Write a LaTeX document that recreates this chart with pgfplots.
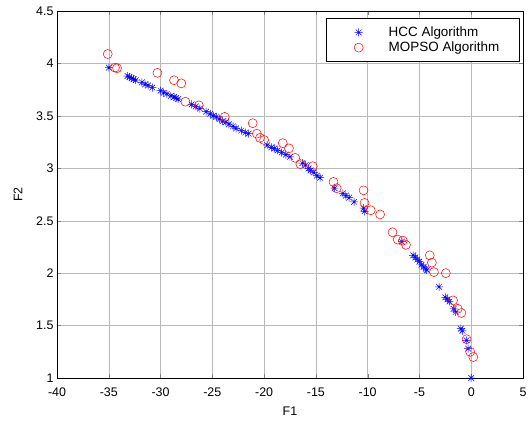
\documentclass[border=0pt]{standalone}
\usepackage{pgfplots}
\pgfplotsset{compat=1.18}
\usepackage{fontspec}
\setmainfont{Liberation Sans}

% MATLAB-style eight-armed asterisk
\pgfdeclareplotmark{mstar}{%
  \pgfpathmoveto{\pgfqpoint{-\pgfplotmarksize}{0pt}}%
  \pgfpathlineto{\pgfqpoint{\pgfplotmarksize}{0pt}}%
  \pgfpathmoveto{\pgfqpoint{0pt}{-\pgfplotmarksize}}%
  \pgfpathlineto{\pgfqpoint{0pt}{\pgfplotmarksize}}%
  \pgfpathmoveto{\pgfqpoint{-0.7071\pgfplotmarksize}{-0.7071\pgfplotmarksize}}%
  \pgfpathlineto{\pgfqpoint{0.7071\pgfplotmarksize}{0.7071\pgfplotmarksize}}%
  \pgfpathmoveto{\pgfqpoint{-0.7071\pgfplotmarksize}{0.7071\pgfplotmarksize}}%
  \pgfpathlineto{\pgfqpoint{0.7071\pgfplotmarksize}{-0.7071\pgfplotmarksize}}%
  \pgfusepathqstroke}

\begin{document}
\begin{tikzpicture}
\begin{axis}[
    scale only axis,
    width=466bp, height=367bp,
    xmin=-40, xmax=5,
    ymin=1, ymax=4.5,
    xtick={-40,-35,...,5},
    ytick={1,1.5,...,4.5},
    tick align=inside,
    tick pos=both,
    major tick length=4bp,
    grid=major,
    grid style={gray!55, line width=0.4pt},
    axis line style={line width=0.6pt},
    xlabel={F1}, ylabel={F2},
    ticklabel style={font=\fontsize{12.5}{14}\selectfont},
    xticklabel style={yshift=-6bp},
    label style={font=\fontsize{12.5}{14}\selectfont},
    xlabel style={yshift=-4bp},
    ylabel style={yshift=7bp},
    /pgf/number format/assume math mode=true,
    legend style={at={(axis description cs:1,1)}, anchor=north east,
        xshift=-3bp, yshift=-7bp,
        font=\fontsize{13.5}{15}\selectfont, draw=black, line width=0.6pt,
        inner xsep=0bp, inner ysep=6.5bp, row sep=0bp},
    legend cell align=left,
    legend image code/.code={%
        \path[draw=none] (0bp,0bp) -- (60bp,0bp);
        \draw[only marks,#1] plot coordinates {(32bp,0bp)};},
]
\addplot[only marks, mark=mstar, mark size=4bp, color=blue, line width=0.5pt]
coordinates{
(-35.0,3.96)
(-33.2,3.88)(-33.0,3.87)(-32.8,3.86)(-32.6,3.85)(-32.4,3.84)
(-31.8,3.82)(-31.5,3.80)(-31.2,3.79)(-30.8,3.77)
(-30.0,3.74)(-29.7,3.72)(-29.4,3.71)(-29.0,3.69)(-28.7,3.68)(-28.5,3.67)(-28.3,3.66)
(-27.0,3.61)(-26.6,3.59)(-26.2,3.57)(-25.6,3.54)(-25.2,3.52)(-24.9,3.50)(-24.6,3.49)
(-24.3,3.47)(-24.0,3.45)(-23.7,3.44)(-23.4,3.42)
(-23.0,3.40)(-22.7,3.38)(-22.2,3.36)(-21.8,3.34)(-21.5,3.33)
(-19.7,3.22)(-19.3,3.20)(-19.0,3.19)(-18.7,3.17)(-18.3,3.15)(-17.9,3.13)(-17.5,3.11)
(-16.3,3.05)(-16.0,3.03)(-15.7,3.00)(-15.5,2.98)(-15.2,2.96)(-14.9,2.93)(-14.6,2.91)
(-13.2,2.81)
(-12.4,2.76)(-12.1,2.74)(-11.8,2.72)(-11.3,2.68)
(-10.4,2.62)(-10.3,2.59)
(-6.7,2.30)
(-5.6,2.17)(-5.4,2.15)(-5.2,2.13)(-5.0,2.11)(-4.8,2.08)(-4.6,2.06)(-4.4,2.04)(-4.3,2.03)
(-3.1,1.87)
(-2.5,1.77)(-2.3,1.75)(-2.1,1.73)
(-1.7,1.66)(-1.5,1.63)
(-1.0,1.47)(-0.85,1.45)
(-0.45,1.36)(-0.3,1.28)(0,1.0)
};
\addlegendentry{\makebox[129bp][l]{HCC Algorithm}}
\addplot[only marks, mark=o, mark size=4.5bp, color=red, line width=0.5pt]
coordinates{
(-35.1,4.09)(-34.4,3.96)(-34.2,3.955)(-30.3,3.91)(-28.7,3.84)(-28.0,3.81)
(-27.6,3.635)(-26.3,3.60)(-23.8,3.49)(-21.1,3.43)(-20.7,3.33)(-20.4,3.29)
(-20.0,3.27)(-18.2,3.24)(-17.6,3.19)(-17.0,3.10)(-16.5,3.04)(-15.3,3.02)
(-13.3,2.87)(-13.0,2.81)(-10.4,2.79)(-10.3,2.67)(-9.7,2.60)(-8.8,2.56)
(-7.6,2.39)(-7.1,2.32)(-6.6,2.31)(-6.3,2.27)(-4.0,2.17)(-3.8,2.10)
(-3.6,2.01)(-2.45,2.0)(-1.75,1.74)(-1.3,1.66)(-0.95,1.62)(-0.45,1.37)
(-0.1,1.25)(0.2,1.20)
};
\addlegendentry{\makebox[129bp][l]{MOPSO Algorithm}}
\end{axis}
\pgfresetboundingbox
\path[use as bounding box] (current axis.south west) ++(-57bp,-43bp)
  rectangle ([shift={(5bp,11bp)}]current axis.north east);
\end{tikzpicture}
\end{document}
